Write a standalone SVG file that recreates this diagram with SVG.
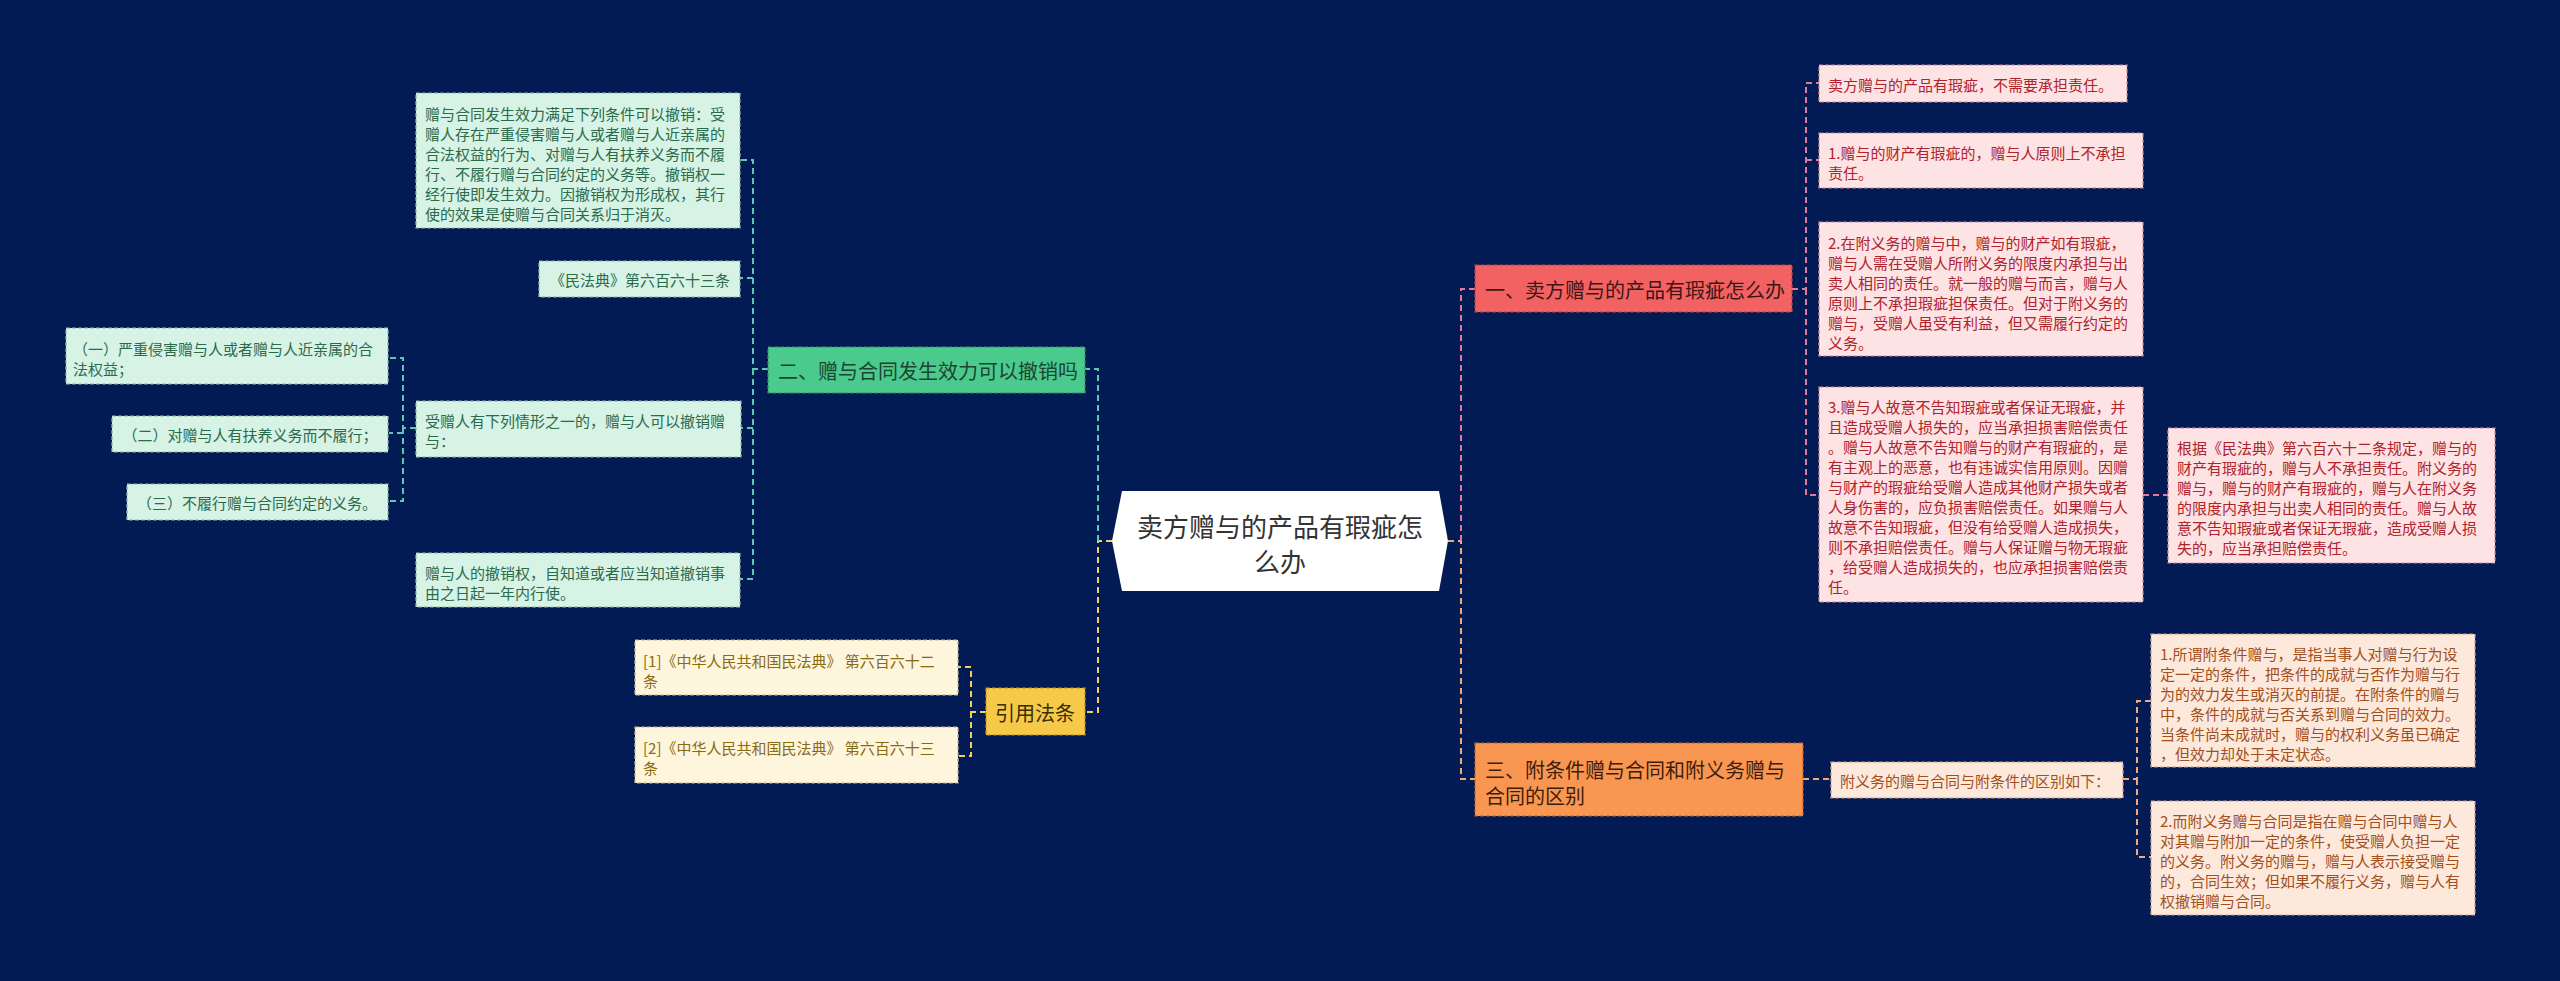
<svg xmlns="http://www.w3.org/2000/svg" width="2560" height="981" viewBox="0 0 2560 981">
<style>
text{font-family:"Noto Sans CJK SC","Noto Sans",sans-serif;dominant-baseline:central}
.t15{font-size:15px}
.t20{font-size:20px}
.box{stroke-width:1.2;stroke-dasharray:4 2}
.g-leaf{fill:#d6f3e5;stroke:#8fb8a8}
.g-txt{fill:#2c6a4c}
.r-leaf{fill:#fde3e3;stroke:#c98b95}
.r-txt{fill:#b0222c}
.y-leaf{fill:#fdf5dc;stroke:#c9b98a}
.y-txt{fill:#8a6a10}
.o-leaf{fill:#fde9dc;stroke:#c9a08a}
.o-txt{fill:#a24f1c}
.con{fill:none;stroke-width:2;stroke-dasharray:6 4}
.c-g{stroke:#5cc8b0}
.c-r{stroke:#e5789a}
.c-y{stroke:#f3d05a}
.c-o{stroke:#f5a878}
</style>
<rect width="2560" height="981" fill="#021b54"/>

<g id="connectors">
  <path class="con c-y" d="M1112,541 H1098 V712 H1085"/>
  <path class="con c-g" d="M1098,541 V369 H1085"/>
  <path class="con c-o" d="M1448,541 H1461 V779 H1475"/>
  <path class="con c-r" d="M1461,541 V289 H1475"/>
  <path class="con c-g" d="M768,369 H753 V160 H740"/>
  <path class="con c-g" d="M753,278 H740"/>
  <path class="con c-g" d="M753,369 V579 H740"/>
  <path class="con c-g" d="M753,428 H741"/>
  <path class="con c-g" d="M416,428 H403 V358 H389"/>
  <path class="con c-g" d="M403,428 V501 H389"/>
  <path class="con c-g" d="M403,433 H389"/>
  <path class="con c-y" d="M986,712 H971 V667 H958"/>
  <path class="con c-y" d="M971,712 V756 H958"/>
  <path class="con c-r" d="M1792,289 H1806 V83 H1819"/>
  <path class="con c-r" d="M1806,160 H1819"/>
  <path class="con c-r" d="M1806,289 V495 H1819"/>
  <path class="con c-r" d="M2143,495 H2168"/>
  <path class="con c-o" d="M1803,779 H1831"/>
  <path class="con c-o" d="M2123,779 H2137 V701 H2151"/>
  <path class="con c-o" d="M2137,779 V857 H2151"/>
</g>

<g id="center">
  <polygon points="1122,491 1439,491 1448,541 1439,591 1122,591 1112,541" fill="#ffffff"/>
  <text x="1280" y="525" text-anchor="middle" font-size="26" fill="#333333">卖方赠与的产品有瑕疵怎</text>
  <text x="1280" y="560" text-anchor="middle" font-size="26" fill="#333333">么办</text>
</g>

<g id="n-green">
  <rect class="box" x="768" y="347" width="317" height="46" fill="#4bca8e" stroke="#2f8f66"/>
  <text class="t20" x="778" y="370" fill="#1c4432">二、赠与合同发生效力可以撤销吗</text>
</g>
<g id="g1">
  <rect class="box g-leaf" x="416" y="93" width="324" height="135"/>
  <text class="t15 g-txt" x="425"><tspan x="425" y="113">赠与合同发生效力满足下列条件可以撤销：受</tspan><tspan x="425" y="133">赠人存在严重侵害赠与人或者赠与人近亲属的</tspan><tspan x="425" y="153">合法权益的行为、对赠与人有扶养义务而不履</tspan><tspan x="425" y="173">行、不履行赠与合同约定的义务等。撤销权一</tspan><tspan x="425" y="193">经行使即发生效力。因撤销权为形成权，其行</tspan><tspan x="425" y="213">使的效果是使赠与合同关系归于消灭。</tspan></text>
</g>
<g id="g2">
  <rect class="box g-leaf" x="539" y="261" width="201" height="36"/>
  <text class="t15 g-txt" x="640" y="279" text-anchor="middle">《民法典》第六百六十三条</text>
</g>
<g id="g3">
  <rect class="box g-leaf" x="416" y="401" width="325" height="56"/>
  <text class="t15 g-txt"><tspan x="425" y="420">受赠人有下列情形之一的，赠与人可以撤销赠</tspan><tspan x="425" y="440">与：</tspan></text>
</g>
<g id="g3a">
  <rect class="box g-leaf" x="66" y="328" width="322" height="56"/>
  <text class="t15 g-txt"><tspan x="73" y="348">（一）严重侵害赠与人或者赠与人近亲属的合</tspan><tspan x="73" y="368">法权益；</tspan></text>
</g>
<g id="g3b">
  <rect class="box g-leaf" x="112" y="416" width="276" height="36"/>
  <text class="t15 g-txt" x="250" y="434" text-anchor="middle">（二）对赠与人有扶养义务而不履行；</text>
</g>
<g id="g3c">
  <rect class="box g-leaf" x="127" y="484" width="261" height="36"/>
  <text class="t15 g-txt" x="257" y="502" text-anchor="middle">（三）不履行赠与合同约定的义务。</text>
</g>
<g id="g4">
  <rect class="box g-leaf" x="416" y="553" width="324" height="54"/>
  <text class="t15 g-txt"><tspan x="425" y="572">赠与人的撤销权，自知道或者应当知道撤销事</tspan><tspan x="425" y="592">由之日起一年内行使。</tspan></text>
</g>

<g id="n-yellow">
  <rect class="box" x="986" y="688" width="99" height="47" fill="#f7c948" stroke="#b8922a"/>
  <text class="t20" x="1035" y="712" text-anchor="middle" fill="#3a2e05">引用法条</text>
</g>
<g id="y1">
  <rect class="box y-leaf" x="635" y="640" width="323" height="55"/>
  <text class="t15 y-txt"><tspan x="643" y="660">[1]《中华人民共和国民法典》 第六百六十二</tspan><tspan x="643" y="680">条</tspan></text>
</g>
<g id="y2">
  <rect class="box y-leaf" x="635" y="727" width="323" height="56"/>
  <text class="t15 y-txt"><tspan x="643" y="747">[2]《中华人民共和国民法典》 第六百六十三</tspan><tspan x="643" y="767">条</tspan></text>
</g>

<g id="n-red">
  <rect class="box" x="1475" y="265" width="317" height="47" fill="#f26262" stroke="#b84040"/>
  <text class="t20" x="1485" y="289" fill="#3e1515">一、卖方赠与的产品有瑕疵怎么办</text>
</g>
<g id="r1">
  <rect class="box r-leaf" x="1819" y="65" width="308" height="37"/>
  <text class="t15 r-txt" x="1828" y="84">卖方赠与的产品有瑕疵，不需要承担责任。</text>
</g>
<g id="r2">
  <rect class="box r-leaf" x="1819" y="133" width="324" height="55"/>
  <text class="t15 r-txt"><tspan x="1828" y="152">1.赠与的财产有瑕疵的，赠与人原则上不承担</tspan><tspan x="1828" y="172">责任。</tspan></text>
</g>
<g id="r3">
  <rect class="box r-leaf" x="1819" y="222" width="324" height="134"/>
  <text class="t15 r-txt"><tspan x="1828" y="242">2.在附义务的赠与中，赠与的财产如有瑕疵，</tspan><tspan x="1828" y="262">赠与人需在受赠人所附义务的限度内承担与出</tspan><tspan x="1828" y="282">卖人相同的责任。就一般的赠与而言，赠与人</tspan><tspan x="1828" y="302">原则上不承担瑕疵担保责任。但对于附义务的</tspan><tspan x="1828" y="322">赠与，受赠人虽受有利益，但又需履行约定的</tspan><tspan x="1828" y="342">义务。</tspan></text>
</g>
<g id="r4">
  <rect class="box r-leaf" x="1819" y="387" width="324" height="215"/>
  <text class="t15 r-txt"><tspan x="1828" y="406">3.赠与人故意不告知瑕疵或者保证无瑕疵，并</tspan><tspan x="1828" y="426">且造成受赠人损失的，应当承担损害赔偿责任</tspan><tspan x="1828" y="446">。赠与人故意不告知赠与的财产有瑕疵的，是</tspan><tspan x="1828" y="466">有主观上的恶意，也有违诚实信用原则。因赠</tspan><tspan x="1828" y="486">与财产的瑕疵给受赠人造成其他财产损失或者</tspan><tspan x="1828" y="506">人身伤害的，应负损害赔偿责任。如果赠与人</tspan><tspan x="1828" y="526">故意不告知瑕疵，但没有给受赠人造成损失，</tspan><tspan x="1828" y="546">则不承担赔偿责任。赠与人保证赠与物无瑕疵</tspan><tspan x="1828" y="566">，给受赠人造成损失的，也应承担损害赔偿责</tspan><tspan x="1828" y="586">任。</tspan></text>
</g>
<g id="r5">
  <rect class="box r-leaf" x="2168" y="428" width="327" height="135"/>
  <text class="t15 r-txt"><tspan x="2177" y="447">根据《民法典》第六百六十二条规定，赠与的</tspan><tspan x="2177" y="467">财产有瑕疵的，赠与人不承担责任。附义务的</tspan><tspan x="2177" y="487">赠与，赠与的财产有瑕疵的，赠与人在附义务</tspan><tspan x="2177" y="507">的限度内承担与出卖人相同的责任。赠与人故</tspan><tspan x="2177" y="527">意不告知瑕疵或者保证无瑕疵，造成受赠人损</tspan><tspan x="2177" y="547">失的，应当承担赔偿责任。</tspan></text>
</g>

<g id="n-orange">
  <rect class="box" x="1475" y="743" width="328" height="73" fill="#f99652" stroke="#b8642a"/>
  <text class="t20" fill="#3e1e0a"><tspan x="1485" y="769">三、附条件赠与合同和附义务赠与</tspan><tspan x="1485" y="795">合同的区别</tspan></text>
</g>
<g id="o1">
  <rect class="box o-leaf" x="1831" y="762" width="292" height="36"/>
  <text class="t15 o-txt" x="1840" y="780">附义务的赠与合同与附条件的区别如下：</text>
</g>
<g id="o2">
  <rect class="box o-leaf" x="2151" y="634" width="324" height="133"/>
  <text class="t15 o-txt"><tspan x="2160" y="653">1.所谓附条件赠与，是指当事人对赠与行为设</tspan><tspan x="2160" y="673">定一定的条件，把条件的成就与否作为赠与行</tspan><tspan x="2160" y="693">为的效力发生或消灭的前提。在附条件的赠与</tspan><tspan x="2160" y="713">中，条件的成就与否关系到赠与合同的效力。</tspan><tspan x="2160" y="733">当条件尚未成就时，赠与的权利义务虽已确定</tspan><tspan x="2160" y="753">，但效力却处于未定状态。</tspan></text>
</g>
<g id="o3">
  <rect class="box o-leaf" x="2151" y="801" width="324" height="114"/>
  <text class="t15 o-txt"><tspan x="2160" y="820">2.而附义务赠与合同是指在赠与合同中赠与人</tspan><tspan x="2160" y="840">对其赠与附加一定的条件，使受赠人负担一定</tspan><tspan x="2160" y="860">的义务。附义务的赠与，赠与人表示接受赠与</tspan><tspan x="2160" y="880">的，合同生效；但如果不履行义务，赠与人有</tspan><tspan x="2160" y="900">权撤销赠与合同。</tspan></text>
</g>
</svg>
